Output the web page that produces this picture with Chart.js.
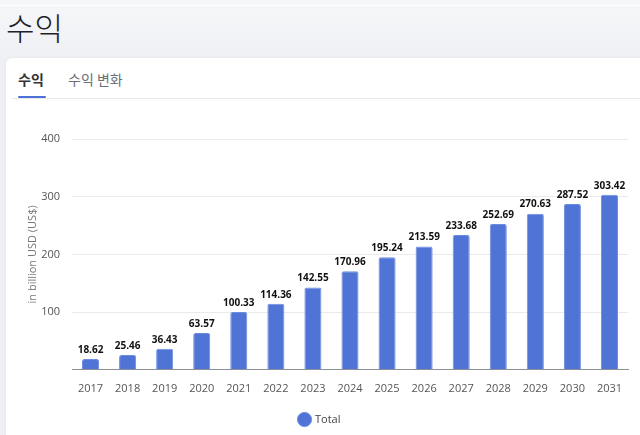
<!DOCTYPE html>
<html>
<head>
<meta charset="utf-8">
<script src="https://cdn.jsdelivr.net/npm/chart.js@4/dist/chart.umd.min.js"></script>
<style>
    html, body { margin: 0; padding: 0; }
    body {
        width: 640px; height: 435px; overflow: hidden; position: relative;
        background: linear-gradient(#f6f7f9, #eef0f4 60px);
        font-family: "Noto Sans CJK KR", "Open Sans", sans-serif;
    }
    #topline { position: absolute; left: 0; top: 5px; width: 640px; height: 1px; background: #fff; }
    #title { position: absolute; left: 6px; top: 5px; font-size: 31px; font-weight: 300; color: #1f2329; line-height: 44px; }
    #card {
        position: absolute; left: 6px; top: 58px; width: 650px; height: 400px;
        background: #fff; border-radius: 6px; box-shadow: 0 0 3px rgba(0,0,0,0.06);
    }
    .tab { position: absolute; top: 11px; font-size: 14px; line-height: 20px; }
    #tab1 { left: 12px; color: #333; font-weight: 700; }
    #tab2 { left: 62px; color: #6b6f76; }
    #tabline { position: absolute; left: 12px; top: 38px; width: 28px; height: 2px; background: #4f73d5; border-radius: 1px; }
    #divider { position: absolute; left: 6px; top: 40px; width: 640px; height: 1px; background: #e6e8eb; }
    #chartBox { position: absolute; left: 12px; top: 105px; width: 628px; height: 330px; }
</style>
</head>
<body>
<div id="topline"></div>
<div id="title">수익</div>
<div id="card">
    <div class="tab" id="tab1">수익</div>
    <div class="tab" id="tab2">수익 변화</div>
    <div id="divider"></div>
    <div id="tabline"></div>
</div>
<div id="chartBox"><canvas id="myChart"></canvas></div>
<script>
const years = ["2017", "2018", "2019", "2020", "2021", "2022", "2023", "2024",
    "2025", "2026", "2027", "2028", "2029", "2030", "2031"];
const totalValues = [18.62, 25.46, 36.43, 63.57, 100.33, 114.36, 142.55, 170.96,
    195.24, 213.59, 233.68, 252.69, 270.63, 287.52, 303.42];
const yTicks = [0, 100, 200, 300, 400];

const barColor = "#4f74d6";

// 막대 위에 값 표시
const valueLabels = {
    id: "valueLabels",
    afterDatasetsDraw(chart) {
        const ctx = chart.ctx;
        const meta = chart.getDatasetMeta(0);
        ctx.save();
        ctx.font = "bold 10px 'Open Sans', sans-serif";
        ctx.fillStyle = "#111";
        ctx.textAlign = "center";
        ctx.textBaseline = "bottom";
        meta.data.forEach(function (bar, i) {
            ctx.fillText(totalValues[i].toFixed(2), bar.x, bar.y - 4);
        });
        ctx.restore();
    }
};

let chartConfig = {
    type: "bar",
    data: {
        labels: years,
        datasets: [
            {
                label: "Total",
                data: totalValues,
                backgroundColor: barColor,
                borderColor: "#6d8ce0",
                borderWidth: 1,
                borderRadius: 2,
                barPercentage: 0.46,
                categoryPercentage: 1
            }
        ]
    },
    options: {
        responsive: true,
        maintainAspectRatio: false,
        animation: false,
        layout: {
            padding: { top: 34, right: 12, bottom: 0, left: 0 }
        },
        plugins: {
            legend: {
                display: true,
                position: "bottom",
                labels: {
                    usePointStyle: true,
                    pointStyle: "circle",
                    boxWidth: 10,
                    boxHeight: 10,
                    padding: 7,
                    color: "#444",
                    font: { family: "'Open Sans', sans-serif", size: 11 }
                }
            },
            tooltip: { enabled: false }
        },
        scales: {
            x: {
                grid: { display: false, drawTicks: false },
                border: { color: "#8d9096", width: 1 },
                ticks: {
                    color: "#555",
                    padding: 12,
                    font: { family: "'Open Sans', sans-serif", size: 11 }
                }
            },
            y: {
                min: 0,
                max: 400,
                afterBuildTicks: function (axis) {
                    axis.ticks = yTicks.map(v => ({ value: v }));
                },
                afterFit: function (axis) {
                    axis.width = 60;
                },
                grid: { color: "#e9eaec", drawTicks: false },
                border: { display: false },
                ticks: {
                    color: "#555",
                    padding: 12,
                    font: { family: "'Open Sans', sans-serif", size: 11 },
                    callback: function (v) { return v === 0 ? "" : v; }
                },
                title: {
                    display: true,
                    text: "in billion USD (US$)",
                    color: "#777",
                    padding: { top: 14, bottom: 0 },
                    font: { family: "'Open Sans', sans-serif", size: 11 }
                }
            }
        }
    },
    plugins: [valueLabels]
};

new Chart(document.getElementById("myChart"), chartConfig);
</script>
</body>
</html>
